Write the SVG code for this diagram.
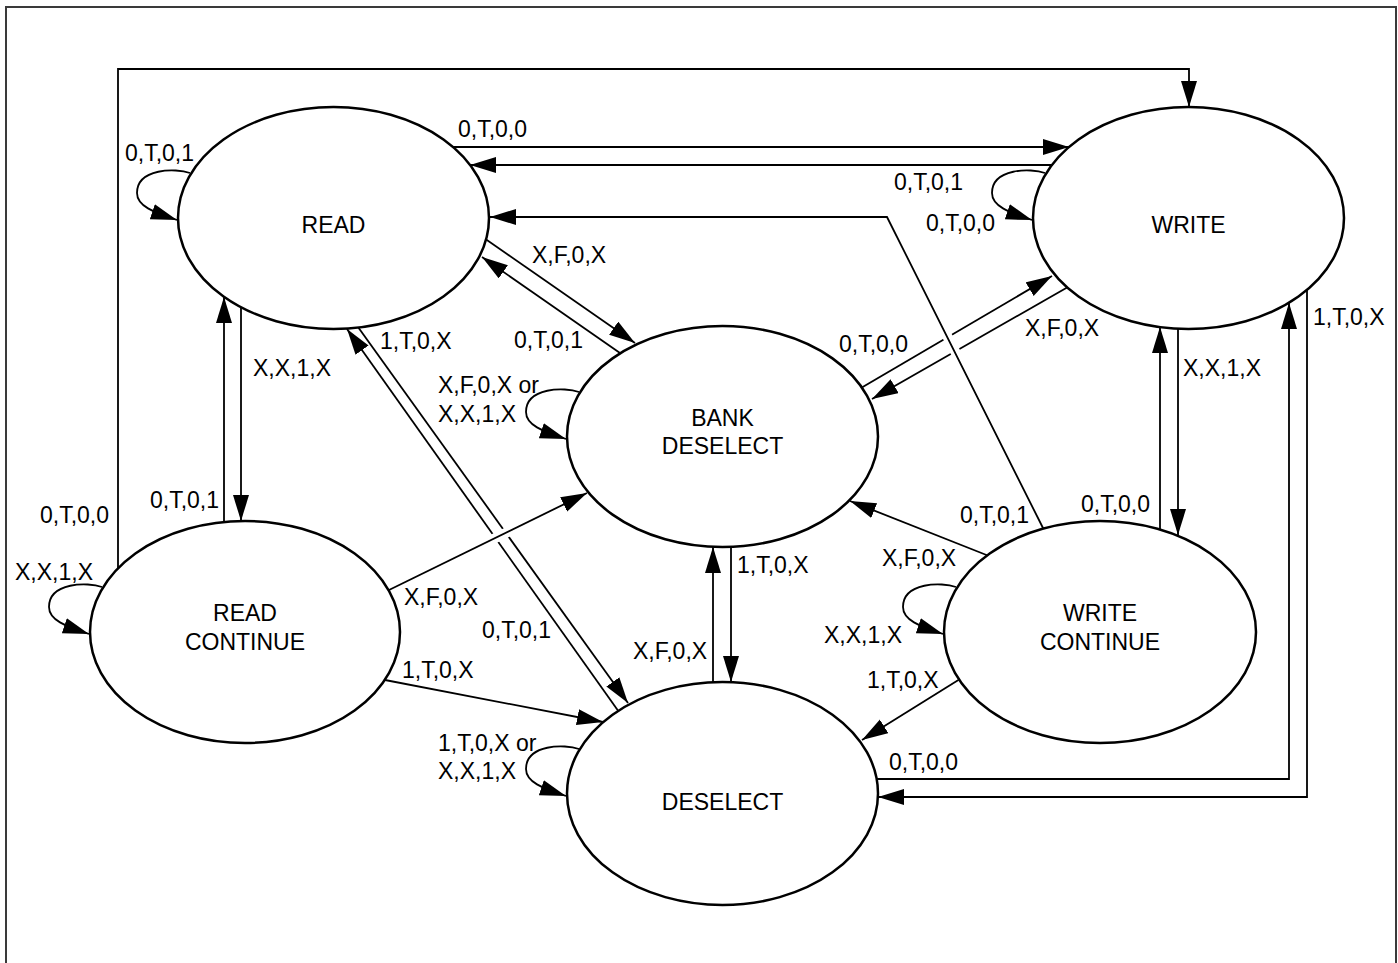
<svg xmlns="http://www.w3.org/2000/svg" width="1398" height="963" viewBox="0 0 1398 963">
<style>
.frame{fill:none;stroke:#3a3a3a;stroke-width:2}
.node{fill:#fff;stroke:#000;stroke-width:2.5}
.ln{fill:none;stroke:#000;stroke-width:1.8}
.halo{fill:none;stroke:#fff;stroke-width:10}
.arr{marker-end:url(#ah)}
text{font-family:"Liberation Sans",Arial,sans-serif;font-size:23px;fill:#000}
.c{text-anchor:middle}
</style>
<defs>
<marker id="ah" markerUnits="userSpaceOnUse" markerWidth="28" markerHeight="18" refX="26" refY="8" orient="auto">
<path d="M0,0 L26,8 L0,16 Z" fill="#000"/>
</marker>
<path id="loop" d="M12,-45 C-2,-50 -41,-50 -41,-25 C-41,-12 -25,-6 -1,2"/>
</defs>
<rect class="frame" x="6" y="7" width="1390" height="975"/>
<g id="connectors">
<!-- top loop READ CONTINUE -> WRITE -->
<path class="ln arr" d="M118,568 L118,69 L1189,69 L1189,107"/>
<text x="40" y="523">0,T,0,0</text>
<!-- READ <-> WRITE -->
<path class="ln arr" d="M453,147 L1069,147"/>
<text x="458" y="137">0,T,0,0</text>
<path class="ln arr" d="M1052,165 L470,165"/>
<text x="894" y="190">0,T,0,1</text>
<!-- self loops -->
<use href="#loop" class="ln arr" transform="translate(178,218)"/>
<text x="125" y="161">0,T,0,1</text>
<use href="#loop" class="ln arr" transform="translate(1033,218)"/>
<text x="926" y="231">0,T,0,0</text>
<use href="#loop" class="ln arr" transform="translate(567,437)"/>
<text x="438" y="393">X,F,0,X or</text>
<text x="438" y="422">X,X,1,X</text>
<use href="#loop" class="ln arr" transform="translate(90,632)"/>
<text x="15" y="580">X,X,1,X</text>
<use href="#loop" class="ln arr" transform="translate(944,632)"/>
<text x="824" y="643">X,X,1,X</text>
<use href="#loop" class="ln arr" transform="translate(567,794)"/>
<text x="438" y="751">1,T,0,X or</text>
<text x="438" y="779">X,X,1,X</text>
<!-- READ <-> BANK DESELECT -->
<path class="ln arr" d="M484,238 L635,343"/>
<text x="532" y="263">X,F,0,X</text>
<path class="ln arr" d="M620,353 L482,257"/>
<text x="514" y="348">0,T,0,1</text>
<!-- WRITE <-> BANK DESELECT -->
<path class="ln arr" d="M861,388 L1052,276"/>
<text x="839" y="352">0,T,0,0</text>
<path class="ln arr" d="M1068,287 L872,399"/>
<text x="1025" y="336">X,F,0,X</text>
<!-- READ <-> READ CONTINUE -->
<path class="ln arr" d="M224,523 L224,297"/>
<text x="150" y="508">0,T,0,1</text>
<path class="ln arr" d="M241,305 L241,521"/>
<text x="253" y="376">X,X,1,X</text>
<!-- WRITE <-> WRITE CONTINUE -->
<path class="ln arr" d="M1160,531 L1160,327"/>
<text x="1081" y="512">0,T,0,0</text>
<path class="ln arr" d="M1178,327 L1178,535"/>
<text x="1183" y="376">X,X,1,X</text>
<!-- WRITE <-> DESELECT -->
<path class="ln arr" d="M1307,288 L1307,797 L878,797"/>
<text x="1313" y="325">1,T,0,X</text>
<path class="ln arr" d="M875,779 L1289,779 L1289,303"/>
<text x="889" y="770">0,T,0,0</text>
<!-- BANK <-> DESELECT -->
<path class="ln arr" d="M713,684 L713,547"/>
<text x="633" y="659">X,F,0,X</text>
<path class="ln arr" d="M731,545 L731,682"/>
<text x="737" y="573">1,T,0,X</text>
<!-- READ <-> DESELECT -->
<path class="ln arr" d="M619,712 L347,329"/>
<text x="380" y="349">1,T,0,X</text>
<path class="ln arr" d="M358,327 L628,703"/>
<text x="482" y="638">0,T,0,1</text>
<!-- READ CONTINUE -> BANK / DESELECT -->
<path class="halo" d="M485,543 L516,528"/>
<path class="ln arr" d="M389,590 L587,493"/>
<text x="404" y="605">X,F,0,X</text>
<path class="ln arr" d="M385,680 L603,722"/>
<text x="402" y="678">1,T,0,X</text>
<!-- WRITE CONTINUE -> READ / BANK / DESELECT -->
<path class="halo" d="M942,326 L961,363"/>
<path class="ln arr" d="M1044,530 L887,217 L490,217"/>
<text x="960" y="523">0,T,0,1</text>
<path class="ln arr" d="M989,556 L850,501"/>
<text x="882" y="566">X,F,0,X</text>
<path class="ln arr" d="M960,679 L862,740"/>
<text x="867" y="688">1,T,0,X</text>
</g>
<g id="read">
<ellipse class="node" cx="333.5" cy="218" rx="155.5" ry="111"/>
<text class="c" x="333.5" y="233">READ</text>
</g>
<g id="write">
<ellipse class="node" cx="1188.5" cy="218" rx="155.5" ry="111"/>
<text class="c" x="1188.5" y="233">WRITE</text>
</g>
<g id="bank-deselect">
<ellipse class="node" cx="722.5" cy="436.5" rx="155.5" ry="110.5"/>
<text class="c" x="722.5" y="426">BANK</text>
<text class="c" x="722.5" y="454">DESELECT</text>
</g>
<g id="read-continue">
<ellipse class="node" cx="245" cy="632" rx="155" ry="111"/>
<text class="c" x="245" y="621">READ</text>
<text class="c" x="245" y="650">CONTINUE</text>
</g>
<g id="write-continue">
<ellipse class="node" cx="1100" cy="632" rx="156" ry="111"/>
<text class="c" x="1100" y="621">WRITE</text>
<text class="c" x="1100" y="650">CONTINUE</text>
</g>
<g id="deselect">
<ellipse class="node" cx="722.5" cy="793.5" rx="155.5" ry="111.5"/>
<text class="c" x="722.5" y="810">DESELECT</text>
</g>
</svg>
